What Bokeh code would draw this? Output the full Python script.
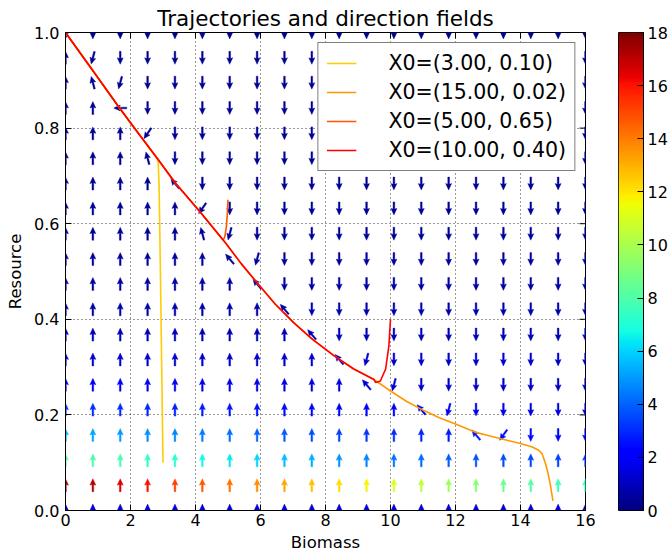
import numpy as np
from bokeh.plotting import figure
from bokeh.models import (FixedTicker, PrintfTickFormatter, Range1d,
                          Legend, LegendItem, LinearColorMapper)
from bokeh.layouts import row
from bokeh.embed import file_html
from bokeh.resources import INLINE

# ---------------- data ----------------
biomass_grid = [0.0, 0.842, 1.684, 2.526, 3.368, 4.211, 5.053, 5.895, 6.737, 7.579,
                8.421, 9.263, 10.105, 10.947, 11.789, 12.632, 13.474, 14.316, 15.158, 16.0]
resource_grid = [0.0, 0.053, 0.105, 0.158, 0.211, 0.263, 0.316, 0.368, 0.421, 0.474,
                 0.526, 0.579, 0.632, 0.684, 0.737, 0.789, 0.842, 0.895, 0.947, 1.0]

# arrow directions, rows from top (R=1.0) to bottom (R=0.0)
# u=up d=down 1=up,slightly left 2=up-left 3=left 4=down-left 5=down,slightly left
direction_rows = [
    "dddddddddddddddddddd",  # 1.000
    "u5dddddddddddddddddd",  # 0.947
    "u15ddddddddddddddddd",  # 0.895
    "uu3ddddddddddddddddd",  # 0.842
    "uuu4dddddddddddddddd",  # 0.789
    "uuu1dddddddddddddddd",  # 0.737
    "uuuu2ddddddddddddddd",  # 0.684
    "uuuuu4dddddddddddddd",  # 0.632
    "uuuuu15ddddddddddddd",  # 0.579
    "uuuuuu25dddddddddddd",  # 0.526
    "uuuuuuu2dddddddddddd",  # 0.474
    "uuuuuuuu2ddddddddddd",  # 0.421
    "uuuuuuuuu2dddddddddd",  # 0.368
    "uuuuuuuuuu25dddddddd",  # 0.316
    "uuuuuuuuuuu25ddddddd",  # 0.263
    "uuuuuuuuuuuuu25ddddd",  # 0.211
    "uuuuuuuuuuuuuuu24ddd",  # 0.158
    "uuuuuuuuuuuuuuuuuuuu",  # 0.105
    "uuuuuuuuuuuuuuuuuuuu",  # 0.053
    "uuuuuuuuuuuuuuuuuuuu",  # 0.000
]
direction_angle = {"u": 90, "d": 270, "1": 105, "2": 130, "3": 180, "4": 235, "5": 255}

# speed (colour value) for the lowest rows, R = 0.000 ... 0.263
speed_r000 = [1.4, 1.4, 1.4, 1.4, 1.4, 1.4, 1.4, 1.4, 1.4, 1.4, 1.4, 1.4, 1.4, 1.4, 1.4, 1.4, 1.4, 1.4, 1.4, 1.4]
speed_r053 = [17.5, 17.1, 16.6, 16.1, 15.2, 14.7, 14.2, 13.7, 13.2, 12.7, 12.2, 11.7, 11.1, 10.5, 9.8, 9.2, 8.6, 8.1, 7.7, 7.3]
speed_r105 = [8.2, 8.0, 7.8, 7.4, 7.1, 6.7, 6.4, 6.0, 5.6, 5.3, 4.9, 4.6, 4.3, 4.1, 3.9, 3.7, 3.6, 3.5, 3.4, 3.3]
speed_r158 = [5.3, 5.2, 5.0, 4.8, 4.6, 4.4, 4.2, 4.0, 3.8, 3.6, 3.4, 3.2, 3.0, 2.9, 2.7, 2.6, 2.5, 2.4, 2.3, 2.2]
speed_r211 = [3.2, 3.1, 3.0, 2.9, 2.8, 2.7, 2.6, 2.5, 2.4, 2.3, 2.2, 2.1, 2.0, 1.9, 1.8, 1.7, 1.6, 1.6, 1.5, 1.5]
speed_r263 = [2.0, 1.9, 1.9, 1.8, 1.8, 1.7, 1.7, 1.6, 1.6, 1.5, 1.5, 1.4, 1.3, 1.2, 1.1, 1.1, 1.0, 1.0, 1.0, 0.9]
# rows R = 0.316 ... 1.0 (one value per row, all dark blue)
speed_upper = [1.2, 0.9, 0.7, 0.55, 0.45, 0.4, 0.35, 0.3, 0.3, 0.3, 0.3, 0.3, 0.3, 0.3]

# slow curve that all trajectories end on (Biomass, Resource)
curve_B = [0.0, 0.8, 1.64, 2.2, 2.82, 3.38, 4.15, 4.92, 5.4, 5.9, 6.45, 7.02, 7.6, 8.26, 8.87, 9.49,
           10.0, 10.5, 11.03, 11.5, 12.0, 12.6, 13.0, 13.4, 14.0, 14.36, 14.56, 14.66]
curve_R = [1.0, 0.924, 0.844, 0.793, 0.737, 0.685, 0.624, 0.56, 0.517, 0.476, 0.432, 0.393, 0.358, 0.324,
           0.296, 0.274, 0.25, 0.228, 0.209, 0.194, 0.181, 0.164, 0.157, 0.150, 0.140, 0.133, 0.126, 0.119]

# initial segments of the trajectories before they reach the curve
traj_labels = ["X0=(3.00, 0.10)", "X0=(15.00, 0.02)", "X0=(5.00, 0.65)", "X0=(10.00, 0.40)"]
traj_colors = ["#ffcc00", "#ff9900", "#ff5500", "#ff0000"]
start_B = [[3.0, 2.96, 2.92, 2.88, 2.85],
           [15.0, 14.96, 14.92, 14.84, 14.76, 14.7],
           [5.0, 4.98, 4.95, 4.9, 4.85],
           [10.0, 9.95, 9.85, 9.69, 9.54]]
start_R = [[0.10, 0.30, 0.50, 0.68, 0.73],
           [0.02, 0.036, 0.053, 0.08, 0.100, 0.112],
           [0.65, 0.62, 0.594, 0.572, 0.566],
           [0.40, 0.344, 0.296, 0.271, 0.268]]

x_ticks = [0, 2, 4, 6, 8, 10, 12, 14, 16]
y_ticks = [0.0, 0.2, 0.4, 0.6, 0.8, 1.0]
cbar_ticks = [0, 2, 4, 6, 8, 10, 12, 14, 16, 18]
VMAX = 18.0

# ---------------- helpers ----------------
def jet(t):
    t = float(np.clip(t, 0, 1))
    r = np.interp(t, [0, 0.35, 0.66, 0.89, 1], [0, 0, 1, 1, 0.5])
    g = np.interp(t, [0, 0.125, 0.375, 0.64, 0.91, 1], [0, 0, 1, 1, 0, 0])
    b = np.interp(t, [0, 0.11, 0.34, 0.65, 1], [0.5, 1, 1, 0, 0])
    return "#%02x%02x%02x" % (int(round(r * 255)), int(round(g * 255)), int(round(b * 255)))

jet_palette = [jet(i / 255) for i in range(256)]

FRAME_W, FRAME_H = 520, 480
px_x = 16.0 / FRAME_W
px_y = 1.0 / FRAME_H

L, HL, HAL, HW, SW = 13.0, 6.5, 5.8, 3.0, 0.85

def arrow_poly(cx, cy, ang_deg):
    a = np.deg2rad(ang_deg)
    d = np.array([np.cos(a), np.sin(a)])
    n = np.array([-d[1], d[0]])
    pts = [-L / 2 * d + SW * n,
           (L / 2 - HAL) * d + SW * n,
           (L / 2 - HL) * d + HW * n,
           L / 2 * d,
           (L / 2 - HL) * d - HW * n,
           (L / 2 - HAL) * d - SW * n,
           -L / 2 * d - SW * n]
    xs = [cx + p[0] * px_x for p in pts]
    ys = [cy + p[1] * px_y for p in pts]
    return xs, ys

speed_rows = [speed_r000, speed_r053, speed_r105, speed_r158, speed_r211, speed_r263] + \
             [[v] * 20 for v in speed_upper]

ax_xs, ax_ys, ax_col = [], [], []
n_rows = len(resource_grid)
for j in range(n_rows):
    drow = direction_rows[n_rows - 1 - j]
    for i, bx in enumerate(biomass_grid):
        xs, ys = arrow_poly(bx, resource_grid[j], direction_angle[drow[i]])
        ax_xs.append(xs)
        ax_ys.append(ys)
        ax_col.append(jet(speed_rows[j][i] / VMAX))

FONT = "DejaVu Sans"
TICK = 6

# ---------------- main figure ----------------
p = figure(width=600, height=554, x_range=Range1d(0, 16), y_range=Range1d(0, 1),
           output_backend="svg", toolbar_location=None,
           min_border_left=65, min_border_right=15, min_border_top=32, min_border_bottom=42,
           title="Trajectories and direction fields")
p.title.align = "center"
p.title.text_font = FONT
p.title.text_font_size = "21.5px"
p.title.text_font_style = "normal"
p.title.text_color = "black"
p.title.standoff = 4
p.title.offset = 0
p.outline_line_color = "black"
p.outline_line_width = 1

p.patches(ax_xs, ax_ys, fill_color=ax_col, line_color=ax_col, line_width=0.4)

items = []
for k in range(4):
    last_b = start_B[k][-1]
    bs = list(start_B[k]) + [b for b in reversed(curve_B) if b < last_b - 0.02]
    rs = list(start_R[k]) + [r for b, r in zip(reversed(curve_B), reversed(curve_R)) if b < last_b - 0.02]
    rr = p.line(bs, rs, line_color=traj_colors[k], line_width=1.6)
    items.append(LegendItem(label=traj_labels[k], renderers=[rr]))

legend = Legend(items=items, location="top_right", border_line_color="black", border_line_width=1,
                background_fill_alpha=1.0, label_text_font=FONT, label_text_font_size="20.5px",
                label_text_color="black",
                glyph_width=30, glyph_height=20, label_height=20, label_standoff=32,
                spacing=5, padding=8, margin=10)
p.add_layout(legend)

for ax in p.xaxis:
    ax.ticker = FixedTicker(ticks=x_ticks)
    ax.formatter = PrintfTickFormatter(format="%d")
    ax.axis_label = "Biomass"
for ax in p.yaxis:
    ax.ticker = FixedTicker(ticks=y_ticks)
    ax.formatter = PrintfTickFormatter(format="%.1f")
    ax.axis_label = "Resource"
for ax in list(p.xaxis) + list(p.yaxis):
    ax.major_tick_in = TICK
    ax.major_tick_out = 0
    ax.minor_tick_line_color = None
    ax.axis_line_color = "black"
    ax.major_tick_line_color = "black"
    ax.major_label_text_font = FONT
    ax.major_label_text_font_size = "16px"
    ax.major_label_text_color = "black"
    ax.axis_label_text_font = FONT
    ax.axis_label_text_font_size = "16.5px"
    ax.axis_label_text_font_style = "normal"
    ax.axis_label_text_color = "black"
p.xaxis.major_label_standoff = 3
p.xaxis.axis_label_standoff = 4
p.yaxis.major_label_standoff = 6
p.yaxis.axis_label_standoff = 6

# inward tick marks on the top and right edges of the frame
p.segment(x0=[16 - TICK * px_x] * len(y_ticks), y0=y_ticks, x1=[16] * len(y_ticks), y1=y_ticks,
          line_color="black", line_width=1)
p.segment(x0=x_ticks, y0=[1 - TICK * px_y] * len(x_ticks), x1=x_ticks, y1=[1] * len(x_ticks),
          line_color="black", line_width=1)

p.xgrid.ticker = FixedTicker(ticks=x_ticks)
p.ygrid.ticker = FixedTicker(ticks=y_ticks)
p.grid.grid_line_color = "black"
p.grid.grid_line_alpha = 0.8
p.grid.grid_line_width = 1
p.grid.grid_line_dash = "1 3"

# ---------------- colour bar ----------------
cb = figure(width=70, height=554, x_range=Range1d(0, 1), y_range=Range1d(0, VMAX),
            output_backend="svg", toolbar_location=None, y_axis_location="right",
            min_border_left=18, min_border_right=27, min_border_top=32, min_border_bottom=42)
cb.image(image=[np.linspace(0, VMAX, 256).reshape(256, 1)], x=0, y=0, dw=1, dh=VMAX,
         color_mapper=LinearColorMapper(palette=jet_palette, low=0, high=VMAX))
cb.xaxis.visible = False
cb.grid.visible = False
cb.outline_line_color = "black"
cb.outline_line_width = 1
for ax in cb.yaxis:
    ax.ticker = FixedTicker(ticks=cbar_ticks)
    ax.major_tick_in = TICK
    ax.major_tick_out = 0
    ax.minor_tick_line_color = None
    ax.axis_line_color = "black"
    ax.major_label_text_font = FONT
    ax.major_label_text_font_size = "16px"
    ax.major_label_text_color = "black"
    ax.major_label_standoff = 4

layout = row(p, cb)
open("out.html", "w").write(file_html(layout, INLINE))
